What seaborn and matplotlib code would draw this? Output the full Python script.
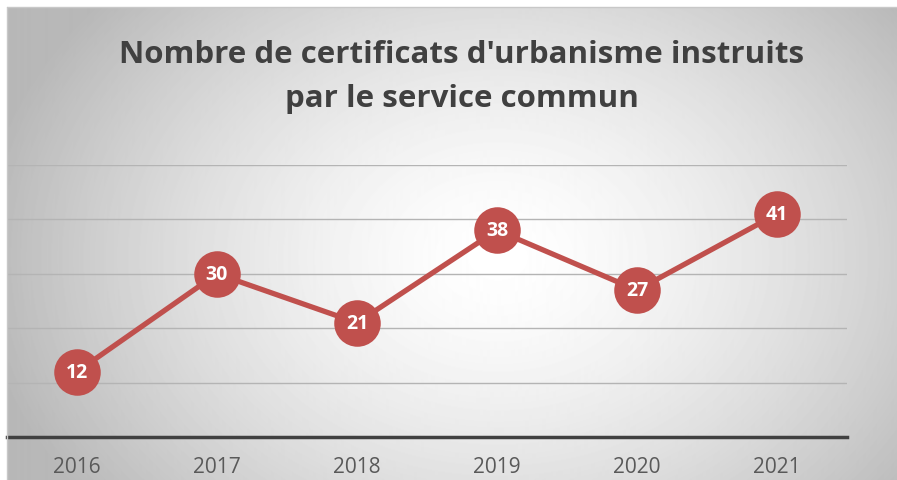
import numpy as np
import pandas as pd
import matplotlib.pyplot as plt
import seaborn as sns

years = ['2016', '2017', '2018', '2019', '2020', '2021']
counts = [12, 30, 21, 38, 27, 41]
title = "Nombre de certificats d'urbanisme instruits\npar le service commun"

df = pd.DataFrame({'year': years, 'count': counts})

sns.set_theme(style='white')
plt.rcParams['font.family'] = ['Open Sans', 'DejaVu Sans']

fig = plt.figure(figsize=(8.97, 4.81), dpi=100)

# radial grey gradient behind the chart
bg = fig.add_axes([7 / 897, 0, 890 / 897, 473 / 481], zorder=0)
yy, xx = np.mgrid[0:473, 0:890]
r = np.sqrt(((xx - 490) / 520.0) ** 2 + ((yy - 250) / 400.0) ** 2)
shade = 1.0 - 0.28 * np.clip(r, 0, 1) ** 1.5
bg.imshow(shade, cmap='gray', vmin=0, vmax=1, aspect='auto')
bg.axis('off')
fig.add_artist(plt.Line2D([7 / 897, 7 / 897], [0, 473 / 481], color='#c8c8c8', lw=1))
fig.add_artist(plt.Line2D([7 / 897, 1], [473 / 481, 473 / 481], color='#c8c8c8', lw=1))

ax = fig.add_axes([7 / 897, 1 - 438 / 481, 840 / 897, 272 / 481], zorder=1)
ax.patch.set_alpha(0)

sns.lineplot(data=df, x='year', y='count', ax=ax, color='#c0504d', lw=3.8,
             marker='o', markersize=33.5, markeredgewidth=0, sort=False)
for i, v in enumerate(counts):
    ax.text(i, v, str(v), ha='center', va='center', color='white',
            fontsize=14, fontweight='bold')

ax.set_xlim(-0.5, 5.5)
ax.set_ylim(0, 50)
ax.set_yticks([10, 20, 30, 40, 50])
ax.yaxis.grid(True, color='#b4b4b4', lw=1)
ax.set_axisbelow(True)
ax.tick_params(axis='y', left=False, labelleft=False)
ax.tick_params(axis='x', bottom=False, labelsize=15, labelcolor='#595959', pad=8)
for s in ['top', 'right', 'left']:
    ax.spines[s].set_visible(False)
ax.spines['bottom'].set_color('#404040')
ax.spines['bottom'].set_linewidth(2.5)
ax.set_xlabel('')
ax.set_ylabel('')

fig.text(462 / 897, 1 - 77 / 481, title, ha='center', va='center',
         fontsize=22.5, fontweight='bold', color='#404040', linespacing=1.65)

fig.savefig('out.png', dpi=100)
